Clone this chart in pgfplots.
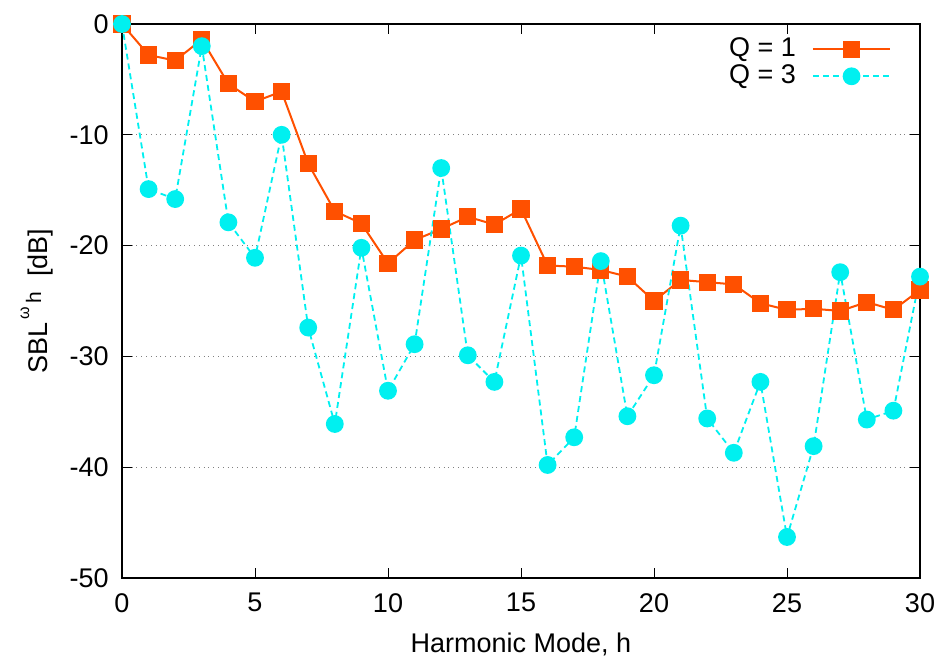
\documentclass[border=0pt]{standalone}
\usepackage{fontspec}
\setmainfont{Liberation Sans}
\usepackage{pgfplots}
\usetikzlibrary{calc}
\pgfplotsset{compat=1.18}
\definecolor{qone}{RGB}{255,80,0}
\definecolor{qthree}{RGB}{0,240,240}
\begin{document}
\fontsize{13.5}{16}\selectfont
\begin{tikzpicture}
\begin{axis}[
  scale only axis,
  width=399pt, height=277pt,
  xmin=0, xmax=30, ymin=-50, ymax=0,
  xtick={0,5,...,30}, ytick={-50,-40,...,0},
  /pgf/number format/assume math mode=true,
  tick align=inside,
  major tick length=5pt,
  tick style={black, line width=0.5pt},
  axis line style={black, line width=0.8pt},
  ymajorgrids,
  grid style={gray, dotted, line width=0.6pt},
  xticklabel style={yshift=-3pt},
  yticklabel style={xshift=-2pt},
  xlabel={Harmonic Mode, h},
  ylabel={SBL\raisebox{1.3ex}{\fontsize{8}{9}\selectfont\,ω}\raisebox{0.45ex}{\fontsize{10.5}{12}\selectfont\,h}\ \ [dB]},
  xlabel style={yshift=-1pt},
  ylabel style={yshift=-1pt},
  clip=false,
  legend cell align=right,
  legend plot pos=right,
  legend style={draw=none, fill=none, at={(0.972,0.99)}, anchor=north east,
    font=\fontsize{13.5}{16}\selectfont, row sep=-2pt, column sep=6pt},
  legend image code/.code={
    \draw[#1] (0cm,0cm) -- (1.36cm,0cm);
    \draw[#1, solid] plot coordinates {(0.68cm,0cm)};
  },
]
\addplot[color=qone, line width=1pt, mark=square*, mark size=3.8pt, mark options={solid, fill=qone, draw=qone}]
coordinates {
(0,0) (1,-2.8) (2,-3.3) (3,-1.4) (4,-5.4) (5,-7.0) (6,-6.1) (7,-12.6) (8,-16.9) (9,-18.0)
(10,-21.6) (11,-19.5) (12,-18.5) (13,-17.4) (14,-18.1) (15,-16.7) (16,-21.8) (17,-21.9) (18,-22.2) (19,-22.8)
(20,-25.0) (21,-23.1) (22,-23.3) (23,-23.5) (24,-25.2) (25,-25.8) (26,-25.7) (27,-25.9) (28,-25.1) (29,-25.8) (30,-24.0)
};
\addlegendentry{Q = 1}
\addplot[color=qthree, line width=0.9pt, dash pattern=on 3pt off 2pt, mark=*, mark size=4pt, mark options={solid, fill=qthree, draw=qthree}]
coordinates {
(0,0) (1,-14.9) (2,-15.8) (3,-2.0) (4,-17.9) (5,-21.1) (6,-10.0) (7,-27.4) (8,-36.1) (9,-20.2)
(10,-33.1) (11,-28.9) (12,-13.0) (13,-29.9) (14,-32.3) (15,-20.9) (16,-39.8) (17,-37.3) (18,-21.4) (19,-35.4)
(20,-31.7) (21,-18.2) (22,-35.6) (23,-38.7) (24,-32.3) (25,-46.3) (26,-38.1) (27,-22.4) (28,-35.7) (29,-34.9) (30,-22.8)
};
\addlegendentry{Q = 3}
\end{axis}
\pgfresetboundingbox
\path[use as bounding box] ($(current axis.south west)+(-61pt,-41.5pt)$) rectangle ($(current axis.north east)+(11.5pt,12pt)$);
\end{tikzpicture}
\end{document}
